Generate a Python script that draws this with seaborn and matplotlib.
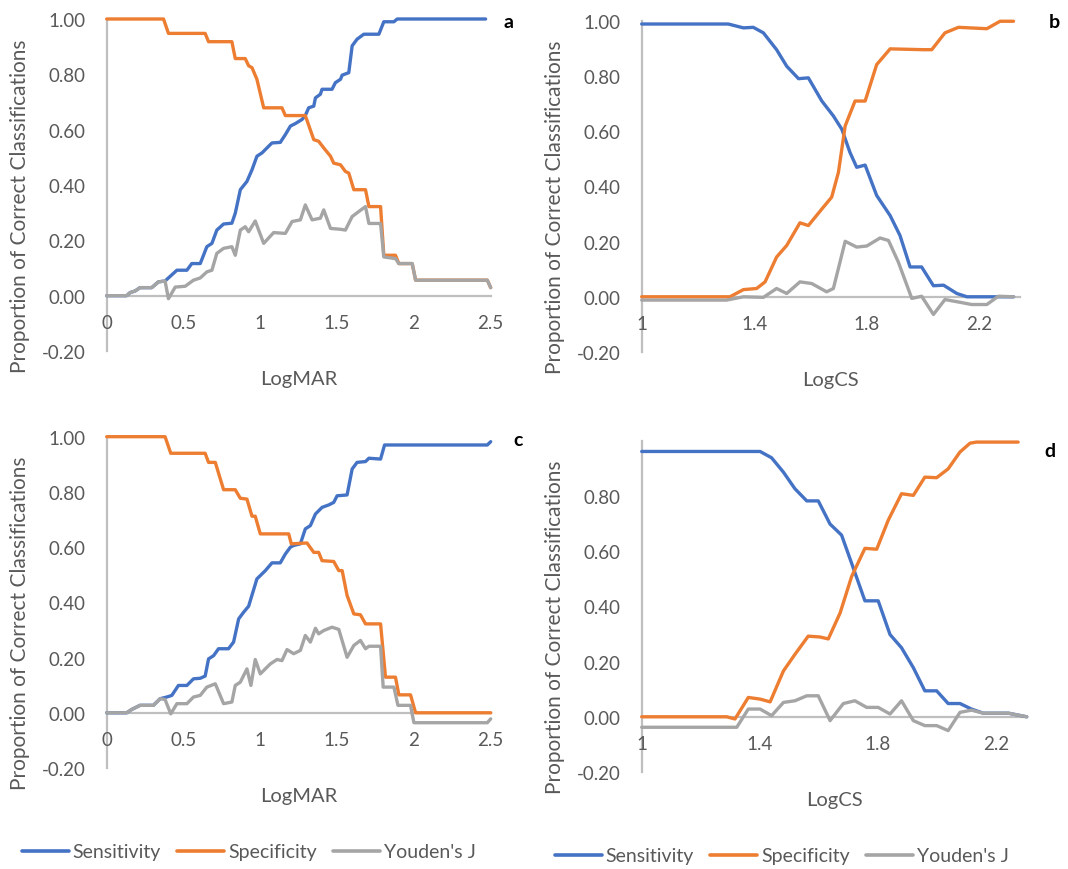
import numpy as np
import pandas as pd
import seaborn as sns
import matplotlib
matplotlib.use("Agg")
import matplotlib.pyplot as plt
from matplotlib.lines import Line2D

# ---------------- data ----------------
# Panel a : LogMAR
a_sens_x = [0, 0.130, 0.152, 0.185, 0.217, 0.293, 0.337, 0.380, 0.457, 0.522, 0.554, 0.609, 0.652, 0.685,
            0.717, 0.761, 0.815, 0.837, 0.870, 0.913, 0.946, 0.978, 1.011, 1.076, 1.130, 1.163, 1.196, 1.228,
            1.272, 1.293, 1.315, 1.348, 1.359, 1.391, 1.402, 1.467, 1.489, 1.522, 1.533, 1.576, 1.598, 1.630,
            1.674, 1.772, 1.804, 1.870, 1.891, 2.467]
a_sens_y = [0, 0, 0.011, 0.017, 0.029, 0.029, 0.050, 0.053, 0.092, 0.092, 0.116, 0.116, 0.177, 0.189,
            0.237, 0.259, 0.262, 0.298, 0.383, 0.413, 0.455, 0.504, 0.516, 0.552, 0.554, 0.582, 0.613, 0.622,
            0.637, 0.651, 0.679, 0.685, 0.715, 0.728, 0.746, 0.746, 0.770, 0.782, 0.797, 0.806, 0.903, 0.927,
            0.945, 0.945, 0.990, 0.990, 1.0, 1.0]
a_spec_x = [0, 0.370, 0.402, 0.641, 0.663, 0.815, 0.837, 0.902, 0.924, 0.946, 0.978, 1.022, 1.141, 1.163,
            1.293, 1.348, 1.380, 1.413, 1.457, 1.478, 1.522, 1.554, 1.576, 1.609, 1.685, 1.707, 1.783, 1.804,
            1.880, 1.902, 1.989, 2.011, 2.478, 2.5]
a_spec_y = [1.0, 1.0, 0.948, 0.948, 0.918, 0.918, 0.857, 0.857, 0.831, 0.824, 0.782, 0.679, 0.679, 0.651,
            0.651, 0.564, 0.558, 0.534, 0.504, 0.479, 0.473, 0.449, 0.443, 0.383, 0.383, 0.322, 0.322, 0.146,
            0.146, 0.116, 0.116, 0.056, 0.056, 0.029]
a_j_x = [0, 0.130, 0.152, 0.185, 0.217, 0.293, 0.337, 0.380, 0.402, 0.446, 0.511, 0.565, 0.609, 0.652,
         0.685, 0.717, 0.761, 0.815, 0.837, 0.870, 0.902, 0.924, 0.967, 1.022, 1.087, 1.163, 1.207, 1.261,
         1.293, 1.337, 1.391, 1.413, 1.457, 1.522, 1.554, 1.598, 1.641, 1.685, 1.707, 1.783, 1.804, 1.880,
         1.902, 1.989, 2.011, 2.478, 2.5]
a_j_y = [0, 0, 0.011, 0.017, 0.029, 0.029, 0.050, 0.053, -0.011, 0.031, 0.034, 0.056, 0.064, 0.086,
         0.092, 0.153, 0.171, 0.177, 0.146, 0.237, 0.249, 0.231, 0.270, 0.189, 0.228, 0.225, 0.268, 0.274,
         0.328, 0.274, 0.280, 0.310, 0.243, 0.240, 0.237, 0.286, 0.304, 0.322, 0.261, 0.261, 0.140, 0.134,
         0.116, 0.116, 0.056, 0.056, 0.029]

# Panel b : LogCS
b_sens_x = [1.000, 1.308, 1.362, 1.397, 1.433, 1.480, 1.516, 1.558, 1.593, 1.641, 1.682, 1.712, 1.741,
            1.765, 1.795, 1.836, 1.884, 1.919, 1.955, 1.996, 2.038, 2.074, 2.121, 2.157, 2.323]
b_sens_y = [0.988, 0.988, 0.974, 0.976, 0.956, 0.895, 0.835, 0.790, 0.793, 0.709, 0.655, 0.607, 0.523,
            0.469, 0.477, 0.367, 0.294, 0.222, 0.108, 0.108, 0.040, 0.042, 0.012, 0, 0]
b_spec_x = [1.000, 1.314, 1.362, 1.409, 1.439, 1.480, 1.516, 1.563, 1.593, 1.641, 1.676, 1.700, 1.724,
            1.759, 1.795, 1.836, 1.884, 2.002, 2.032, 2.079, 2.127, 2.228, 2.275, 2.323]
b_spec_y = [0, 0, 0.026, 0.030, 0.054, 0.144, 0.186, 0.268, 0.258, 0.318, 0.361, 0.451, 0.619,
            0.709, 0.709, 0.841, 0.898, 0.895, 0.895, 0.956, 0.976, 0.971, 0.998, 0.998]
b_j_x = [1.000, 1.302, 1.362, 1.433, 1.480, 1.516, 1.563, 1.605, 1.658, 1.682, 1.724, 1.765, 1.801,
         1.848, 1.878, 1.913, 1.961, 1.996, 2.038, 2.079, 2.133, 2.174, 2.228, 2.269, 2.323]
b_j_y = [-0.012, -0.012, 0, -0.002, 0.030, 0.012, 0.054, 0.048, 0.018, 0.030, 0.201, 0.180, 0.184,
         0.213, 0.204, 0.126, -0.006, 0.002, -0.064, -0.010, -0.020, -0.028, -0.028, 0.002, 0]

# Panel c : LogMAR
c_sens_x = [0, 0.130, 0.163, 0.217, 0.304, 0.348, 0.391, 0.424, 0.467, 0.522, 0.565, 0.609, 0.641, 0.663,
            0.696, 0.728, 0.793, 0.826, 0.859, 0.891, 0.924, 0.978, 1.033, 1.076, 1.130, 1.163, 1.196, 1.217,
            1.261, 1.293, 1.326, 1.359, 1.402, 1.446, 1.478, 1.500, 1.565, 1.598, 1.630, 1.685, 1.707, 1.783,
            1.809, 2.478, 2.5]
c_sens_y = [0, 0, 0.012, 0.027, 0.027, 0.051, 0.057, 0.063, 0.099, 0.099, 0.123, 0.125, 0.133, 0.195,
            0.207, 0.232, 0.232, 0.256, 0.340, 0.364, 0.386, 0.485, 0.515, 0.543, 0.543, 0.575, 0.600, 0.606,
            0.612, 0.666, 0.678, 0.720, 0.744, 0.753, 0.762, 0.786, 0.789, 0.883, 0.907, 0.910, 0.922, 0.919,
            0.970, 0.970, 0.982]
c_spec_x = [0, 0.380, 0.417, 0.641, 0.663, 0.707, 0.761, 0.837, 0.870, 0.913, 0.946, 0.967, 1.000, 1.185,
            1.202, 1.304, 1.348, 1.380, 1.402, 1.478, 1.511, 1.533, 1.565, 1.609, 1.652, 1.685, 1.783, 1.815,
            1.880, 1.902, 1.978, 2.011, 2.5]
c_spec_y = [1.0, 1.0, 0.940, 0.940, 0.907, 0.907, 0.808, 0.808, 0.777, 0.774, 0.712, 0.712, 0.648, 0.648,
            0.612, 0.615, 0.581, 0.581, 0.551, 0.548, 0.515, 0.515, 0.425, 0.358, 0.355, 0.322, 0.322, 0.129,
            0.129, 0.065, 0.065, 0, 0]
c_j_x = [0, 0.130, 0.163, 0.217, 0.304, 0.348, 0.380, 0.417, 0.457, 0.522, 0.565, 0.609, 0.652, 0.707,
         0.761, 0.815, 0.837, 0.870, 0.913, 0.939, 0.967, 1.000, 1.065, 1.109, 1.141, 1.174, 1.217, 1.261,
         1.293, 1.326, 1.359, 1.380, 1.413, 1.467, 1.511, 1.565, 1.609, 1.652, 1.685, 1.707, 1.783, 1.800,
         1.870, 1.896, 1.978, 2.000, 2.478, 2.5]
c_j_y = [0, 0, 0.012, 0.027, 0.027, 0.051, 0.048, -0.004, 0.033, 0.033, 0.057, 0.063, 0.093, 0.105,
         0.033, 0.039, 0.099, 0.111, 0.159, 0.099, 0.193, 0.141, 0.177, 0.193, 0.189, 0.229, 0.214, 0.226,
         0.280, 0.256, 0.306, 0.286, 0.298, 0.310, 0.302, 0.201, 0.244, 0.262, 0.232, 0.241, 0.241, 0.093,
         0.093, 0.027, 0.027, -0.036, -0.036, -0.022]

# Panel d : LogCS
d_sens_x = [1.000, 1.401, 1.440, 1.480, 1.519, 1.559, 1.598, 1.638, 1.677, 1.717, 1.756, 1.801, 1.841,
            1.880, 1.920, 1.959, 1.999, 2.038, 2.078, 2.117, 2.157, 2.242, 2.304]
d_sens_y = [0.961, 0.961, 0.938, 0.886, 0.826, 0.782, 0.782, 0.698, 0.658, 0.538, 0.420, 0.420, 0.298,
            0.250, 0.178, 0.094, 0.094, 0.048, 0.048, 0.028, 0.013, 0.013, 0]
d_spec_x = [1.000, 1.288, 1.316, 1.361, 1.401, 1.435, 1.480, 1.519, 1.564, 1.604, 1.632, 1.672, 1.711,
            1.756, 1.796, 1.835, 1.880, 1.920, 1.959, 1.999, 2.038, 2.078, 2.112, 2.134, 2.275]
d_spec_y = [0, 0, -0.008, 0.070, 0.064, 0.054, 0.166, 0.226, 0.292, 0.289, 0.282, 0.376, 0.508,
            0.610, 0.607, 0.712, 0.808, 0.802, 0.868, 0.866, 0.898, 0.959, 0.991, 0.995, 0.995]
d_j_x = [1.000, 1.322, 1.361, 1.401, 1.440, 1.480, 1.519, 1.559, 1.598, 1.638, 1.683, 1.722, 1.762,
         1.801, 1.841, 1.880, 1.920, 1.959, 1.999, 2.038, 2.078, 2.117, 2.157, 2.242, 2.304]
d_j_y = [-0.038, -0.038, 0.028, 0.028, 0.004, 0.052, 0.058, 0.076, 0.076, -0.014, 0.048, 0.058, 0.034,
         0.034, 0.010, 0.058, -0.014, -0.032, -0.032, -0.050, 0.016, 0.024, 0.013, 0.013, 0]

series_names = ["Sensitivity", "Specificity", "Youden's J"]
panel_letters = ["a", "b", "c", "d"]
x_titles = ["LogMAR", "LogCS", "LogMAR", "LogCS"]
y_title = "Proportion of Correct Classifications"
mar_ticks = [0, 0.5, 1, 1.5, 2, 2.5]
mar_ticklabels = ["0", "0.5", "1", "1.5", "2", "2.5"]
cs_ticks = [1, 1.4, 1.8, 2.2]
cs_ticklabels = ["1", "1.4", "1.8", "2.2"]
y_ticks_full = [-0.2, 0, 0.2, 0.4, 0.6, 0.8, 1.0]
y_ticks_d = [-0.2, 0, 0.2, 0.4, 0.6, 0.8]

# ---------------- style ----------------
sns.set_theme(style="white")
plt.rcParams["font.family"] = ["Lato", "DejaVu Sans"]
TXT = "#595959"
AX = "#BFBFBF"
colors = {"Sensitivity": "#4472C4", "Specificity": "#ED7D31", "Youden's J": "#A5A5A5"}

W, H = 1068, 870
fig = plt.figure(figsize=(W / 100, H / 100), dpi=100)


def rect(left, right, top, bottom):
    return [left / W, 1 - bottom / H, (right - left) / W, (bottom - top) / H]


panels = [
    dict(rect=rect(106.7, 490.7, 20, 352), xlim=(0, 2.5), ticks=mar_ticks, tl=mar_ticklabels,
         data=[(a_sens_x, a_sens_y), (a_spec_x, a_spec_y), (a_j_x, a_j_y)], yt=y_ticks_full,
         ylab_x=20, letter_xy=(509, 22)),
    dict(rect=rect(641.7, 1020, 21.7, 353), xlim=(1, 2.346), ticks=cs_ticks, tl=cs_ticklabels,
         data=[(b_sens_x, b_sens_y), (b_spec_x, b_spec_y), (b_j_x, b_j_y)], yt=y_ticks_full,
         ylab_x=555, letter_xy=(1054, 22)),
    dict(rect=rect(106.7, 490.7, 437.7, 769), xlim=(0, 2.5), ticks=mar_ticks, tl=mar_ticklabels,
         data=[(c_sens_x, c_sens_y), (c_spec_x, c_spec_y), (c_j_x, c_j_y)], yt=y_ticks_full,
         ylab_x=20, letter_xy=(518, 440)),
    dict(rect=rect(641.7, 1026.7, 441.7, 773), xlim=(1, 2.304), ticks=cs_ticks, tl=cs_ticklabels,
         data=[(d_sens_x, d_sens_y), (d_spec_x, d_spec_y), (d_j_x, d_j_y)], yt=y_ticks_d,
         ylab_x=555, letter_xy=(1050, 452)),
]

for i, p in enumerate(panels):
    ax = fig.add_axes(p["rect"])
    for name, (xs, ys) in zip(series_names, p["data"]):
        df = pd.DataFrame({"x": xs, "y": ys})
        sns.lineplot(data=df, x="x", y="y", ax=ax, color=colors[name], linewidth=2.4,
                     estimator=None, sort=False, clip_on=False, legend=False)
    ax.set_xlim(*p["xlim"])
    ax.set_ylim(-0.2, 1.0)
    ax.set_xticks(p["ticks"])
    ax.set_xticklabels(p["tl"])
    ax.set_yticks(p["yt"])
    ax.set_yticklabels([f"{v:.2f}" for v in p["yt"]])
    for s in ["top", "right"]:
        ax.spines[s].set_visible(False)
    ax.spines["left"].set_color(AX)
    ax.spines["left"].set_linewidth(1.6)
    ax.spines["left"].set_zorder(0)
    ax.spines["bottom"].set_position(("data", 0))
    ax.spines["bottom"].set_color(AX)
    ax.spines["bottom"].set_linewidth(1.6)
    ax.spines["bottom"].set_zorder(0)
    ax.tick_params(axis="x", length=0, pad=13, labelsize=13.5, labelcolor=TXT)
    ax.tick_params(axis="y", length=0, pad=15, labelsize=13.5, labelcolor=TXT)
    ax.set_xlabel("")
    ax.set_ylabel("")
    ax.grid(False)
    ax.patch.set_alpha(0)
    # axis titles
    r = p["rect"]
    ax.text(0.5, -19 / (r[3] * H), x_titles[i], transform=ax.transAxes, ha="center", va="top",
            fontsize=14.5, color=TXT)
    yc_px = (1 - (r[1] + r[3] * 0.44)) * H
    fig.text(p["ylab_x"] / W, 1 - yc_px / H, y_title, rotation=90, ha="center", va="center",
             fontsize=15, color=TXT)
    lx, ly = p["letter_xy"]
    fig.text(lx / W, 1 - ly / H, panel_letters[i], ha="center", va="center", fontsize=14,
             fontweight="bold", color="black")

handles = [Line2D([0], [0], color=colors[n], linewidth=2.6) for n in series_names]
for x0, y0 in [(22, 853), (555, 857)]:
    fig.legend(handles, series_names, loc="center left", bbox_to_anchor=(x0 / W, 1 - y0 / H),
               ncol=3, frameon=False, fontsize=14, labelcolor=TXT, handlelength=2.4,
               handletextpad=0.2, columnspacing=0.85, borderpad=0, borderaxespad=0)

fig.savefig("out.png", dpi=100)
